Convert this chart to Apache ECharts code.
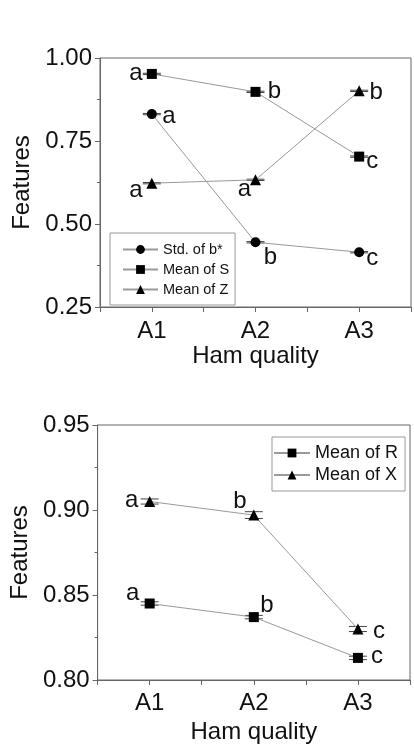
<!DOCTYPE html>
<html>
<head>
<meta charset="utf-8">
<script src="https://cdn.jsdelivr.net/npm/echarts@6/dist/echarts.min.js"></script>
<style>
  html, body { margin: 0; padding: 0; background: #fff; }
  #chart { width: 414px; height: 745px; }
</style>
</head>
<body>
<div id="chart"></div>
<script>
// categories
const categories = ['A1', 'A2', 'A3']

// top panel
const stdB = [0.831, 0.445, 0.415]
const meanS = [0.952, 0.898, 0.703]
const meanZ = [0.623, 0.633, 0.901]
const stdBErr = [0.002, 0.002, 0.002]
const meanSErr = [0.002, 0.002, 0.002]
const meanZErr = [0.002, 0.002, 0.002]
const stdBLetters = ['a', 'b', 'c']
const meanSLetters = ['a', 'b', 'c']
const meanZLetters = ['a', 'a', 'b']
const topTicks = [0.25, 0.5, 0.75, 1.0]

// bottom panel
const meanR = [0.845, 0.837, 0.813]
const meanX = [0.905, 0.897, 0.830]
const meanRErr = [0.001, 0.001, 0.001]
const meanXErr = [0.0015, 0.002, 0.0015]
const meanRLetters = ['a', 'b', 'c']
const meanXLetters = ['a', 'b', 'c']
const bottomTicks = [0.80, 0.85, 0.90, 0.95]

// label offsets (px) next to each point
const letterOffsets = {
  stdB: [[17, 2], [15, 15], [13, 6]],
  meanS: [[-16, -1], [19, 0], [13, 5]],
  meanZ: [[-16, 7], [-11, 10], [17, 2]],
  meanR: [[-17, -10], [13, -12], [19, -2]],
  meanX: [[-18, -1], [-14, -14], [21, 2]],
}

const FONT = 'Liberation Sans, Arial, sans-serif'
const TEXT = '#111'
const FRAME = '#666'

function points(values, letters, offsets) {
  return values.map((v, i) => ({
    value: [i + 1, v],
    label: { formatter: letters[i], offset: offsets[i] },
  }))
}

function errorBars(values, errs, xIdx, yIdx) {
  return {
    type: 'custom',
    xAxisIndex: xIdx,
    yAxisIndex: yIdx,
    silent: true,
    z: 1,
    data: values.map((v, i) => [i + 1, v - errs[i], v + errs[i]]),
    renderItem(params, api) {
      const lo = api.coord([api.value(0), api.value(1)])
      const hi = api.coord([api.value(0), api.value(2)])
      const w = 9
      const style = { stroke: '#444', lineWidth: 1 }
      return {
        type: 'group',
        children: [
          { type: 'line', shape: { x1: lo[0], y1: lo[1], x2: hi[0], y2: hi[1] }, style },
          { type: 'line', shape: { x1: lo[0] - w, y1: lo[1], x2: lo[0] + w, y2: lo[1] }, style },
          { type: 'line', shape: { x1: hi[0] - w, y1: hi[1], x2: hi[0] + w, y2: hi[1] }, style },
        ],
      }
    },
  }
}

function lineSeries(name, values, letters, offsets, symbol, size, xIdx, yIdx) {
  return {
    name,
    type: 'line',
    xAxisIndex: xIdx,
    yAxisIndex: yIdx,
    symbol,
    symbolSize: size,
    showAllSymbol: true,
    z: 3,
    lineStyle: { color: '#999', width: 1 },
    itemStyle: { color: '#000' },
    label: {
      show: true,
      position: 'inside',
      align: 'center',
      verticalAlign: 'middle',
      color: TEXT,
      fontSize: 24,
      fontFamily: FONT,
    },
    emphasis: { disabled: true },
    data: points(values, letters, offsets),
  }
}

function xAxis(gridIndex, nameGap, margin) {
  return {
    type: 'value',
    gridIndex,
    min: 0.5,
    max: 3.5,
    interval: 0.5,
    name: 'Ham quality',
    nameLocation: 'middle',
    nameGap,
    nameTextStyle: { fontSize: 24, color: TEXT, fontFamily: FONT },
    axisLine: { lineStyle: { color: FRAME, width: 1 } },
    axisTick: { show: true, length: 5, lineStyle: { color: FRAME } },
    axisLabel: {
      margin,
      fontSize: 24,
      color: TEXT,
      fontFamily: FONT,
      formatter: (v) => (Number.isInteger(v) ? categories[v - 1] : ''),
    },
    splitLine: { show: false },
  }
}

function yAxis(gridIndex, ticks, nameGap) {
  return {
    type: 'value',
    gridIndex,
    min: ticks[0],
    max: ticks[ticks.length - 1],
    interval: ticks[1] - ticks[0],
    name: 'Features',
    nameLocation: 'middle',
    nameGap,
    nameTextStyle: { fontSize: 24, color: TEXT, fontFamily: FONT },
    axisLine: { show: true, lineStyle: { color: FRAME, width: 1 } },
    axisTick: { show: true, length: 5, lineStyle: { color: FRAME } },
    minorTick: { show: true, splitNumber: 2, length: 3, lineStyle: { color: FRAME } },
    axisLabel: {
      margin: 8,
      fontSize: 24,
      color: TEXT,
      fontFamily: FONT,
      formatter: (v) => v.toFixed(2),
    },
    splitLine: { show: false },
  }
}

const chart = echarts.init(document.getElementById('chart'), null, { renderer: 'canvas' })

chart.setOption({
  animation: false,
  backgroundColor: '#fff',
  textStyle: { fontFamily: FONT },
  grid: [
    { left: 100, top: 58, width: 312, height: 249, show: true, borderColor: FRAME, borderWidth: 1 },
    { left: 90, top: 425, width: 320, height: 255, show: true, borderColor: FRAME, borderWidth: 1 },
  ],
  xAxis: [xAxis(0, 36, 12), xAxis(1, 40, 11)],
  yAxis: [yAxis(0, topTicks, 61), yAxis(1, bottomTicks, 61)],
  legend: [
    {
      data: ['Std. of b*', 'Mean of S', 'Mean of Z'],
      orient: 'vertical',
      left: 110,
      top: 233,
      padding: [9, 6, 8, 12],
      itemWidth: 35,
      itemHeight: 11,
      itemGap: 5,
      borderColor: '#999',
      borderWidth: 1,
      selectedMode: false,
      textStyle: { fontSize: 14.5, color: TEXT, fontFamily: FONT },
    },
    {
      data: ['Mean of R', 'Mean of X'],
      orient: 'vertical',
      left: 272,
      top: 437,
      padding: [7, 7, 7, 1],
      itemWidth: 36,
      itemHeight: 11,
      itemGap: 4,
      borderColor: '#999',
      borderWidth: 1,
      selectedMode: false,
      textStyle: { fontSize: 18, color: TEXT, fontFamily: FONT },
    },
  ],
  series: [
    errorBars(stdB, stdBErr, 0, 0),
    errorBars(meanS, meanSErr, 0, 0),
    errorBars(meanZ, meanZErr, 0, 0),
    errorBars(meanR, meanRErr, 1, 1),
    errorBars(meanX, meanXErr, 1, 1),
    lineSeries('Std. of b*', stdB, stdBLetters, letterOffsets.stdB, 'circle', 10, 0, 0),
    lineSeries('Mean of S', meanS, meanSLetters, letterOffsets.meanS, 'rect', 10, 0, 0),
    lineSeries('Mean of Z', meanZ, meanZLetters, letterOffsets.meanZ, 'triangle', 11, 0, 0),
    lineSeries('Mean of R', meanR, meanRLetters, letterOffsets.meanR, 'rect', 10, 1, 1),
    lineSeries('Mean of X', meanX, meanXLetters, letterOffsets.meanX, 'triangle', 11, 1, 1),
  ],
})
</script>
</body>
</html>
